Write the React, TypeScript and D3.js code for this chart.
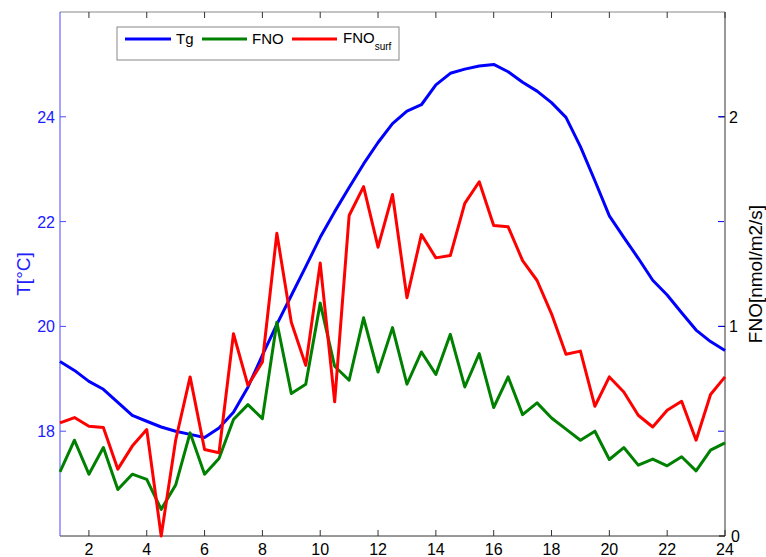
import React from "react";
import * as d3 from "d3";

const hours = [1,1.5,2,2.5,3,3.5,4,4.5,5,5.5,6,6.5,7,7.5,8,8.5,9,9.5,10,10.5,11,11.5,12,12.5,13,13.5,14,14.5,15,15.5,16,16.5,17,17.5,18,18.5,19,19.5,20,20.5,21,21.5,22,22.5,23,23.5,24];
const tg = [19.33,19.16,18.95,18.8,18.55,18.3,18.19,18.08,18.0,17.94,17.88,18.06,18.36,18.84,19.45,20.04,20.59,21.14,21.7,22.19,22.65,23.1,23.51,23.87,24.11,24.23,24.61,24.83,24.91,24.97,25.0,24.86,24.66,24.49,24.27,23.99,23.43,22.78,22.11,21.7,21.3,20.88,20.6,20.26,19.93,19.71,19.54];
const fno = [0.306,0.457,0.295,0.422,0.222,0.295,0.27,0.127,0.243,0.492,0.295,0.37,0.556,0.627,0.56,1.02,0.68,0.724,1.111,0.81,0.743,1.041,0.782,0.994,0.724,0.878,0.771,0.962,0.711,0.87,0.613,0.759,0.579,0.635,0.563,0.51,0.457,0.5,0.365,0.422,0.338,0.367,0.335,0.378,0.311,0.41,0.444];
const fnoSurf = [0.54,0.565,0.524,0.518,0.319,0.429,0.508,0.0,0.457,0.759,0.413,0.397,0.965,0.719,0.83,1.444,1.02,0.814,1.302,0.64,1.529,1.667,1.378,1.629,1.137,1.438,1.327,1.338,1.587,1.69,1.481,1.475,1.314,1.219,1.06,0.867,0.882,0.619,0.759,0.687,0.576,0.52,0.6,0.643,0.457,0.675,0.759];
const xTicks = [2,4,6,8,10,12,14,16,18,20,22,24];
const tTicks = [18,20,22,24];
const fTicks = [0,1,2];

const W = 766, H = 557;
const L = 60, R = 725, T = 12, B = 536;
const FONT = "Arial, 'Liberation Sans', Helvetica, sans-serif";

export default function App() {
  const x = d3.scaleLinear().domain([1, 24]).range([L, R]);
  const yT = d3.scaleLinear().domain([16, 26]).range([B, T]);
  const yF = d3.scaleLinear().domain([0, 2.5]).range([B, T]);
  const lineT = d3.line<number>().x((_, i) => x(hours[i])).y(d => yT(d));
  const lineF = d3.line<number>().x((_, i) => x(hours[i])).y(d => yF(d));
  const tick = 6;
  return (
    <div style={{ position: "fixed", left: 0, top: 0 }}>
      <svg width={W} height={H} style={{ display: "block", background: "#fff" }} fontFamily={FONT}>
        <rect x={0} y={0} width={W} height={H} fill="#fff" />
        {/* box lines */}
        <line x1={L} y1={T} x2={R} y2={T} stroke="#888" strokeWidth={1} />
        <line x1={L} y1={B} x2={R} y2={B} stroke="#333" strokeWidth={1} />
        <line x1={R} y1={T} x2={R} y2={B} stroke="#999" strokeWidth={2} />
        {/* x ticks */}
        {xTicks.map(v => (
          <g key={"x" + v}>
            <line x1={x(v)} x2={x(v)} y1={B} y2={B - tick} stroke="#333" />
            <line x1={x(v)} x2={x(v)} y1={T} y2={T + tick} stroke="#333" />
            <text x={x(v)} y={555} textAnchor="middle" fontSize={16} fill="#000">{v}</text>
          </g>
        ))}
        {/* right axis ticks (F) */}
        {fTicks.map(v => (
          <g key={"f" + v}>
            <line x1={R} x2={R - tick} y1={yF(v)} y2={yF(v)} stroke="#000" />
            <text x={v === 0 ? 731 : 729} y={yF(v) + 6} textAnchor="start" fontSize={16} fill="#000">{v}</text>
          </g>
        ))}
        {/* left-axis tick echoes on right side */}
        {tTicks.map(v => (
          <line key={"te" + v} x1={R - 1} x2={R - tick - 1} y1={yT(v)} y2={yT(v)} stroke="#0000ff" />
        ))}
        {/* left axis */}
        <line x1={L} y1={T} x2={L} y2={B} stroke="#4a4aff" strokeWidth={1} />
        {tTicks.map(v => (
          <g key={"t" + v}>
            <line x1={L} x2={L + tick} y1={yT(v)} y2={yT(v)} stroke="#4a4aff" />
            <text x={55} y={yT(v) + 6} textAnchor="end" fontSize={16} fill="#2020ff">{v}</text>
          </g>
        ))}
        <text transform={`translate(30,${(T + B) / 2}) rotate(-90)`} textAnchor="middle" fontSize={19} fill="#2020ff">T[°C]</text>
        <text transform={`translate(762,${(T + B) / 2}) rotate(-90)`} textAnchor="middle" fontSize={19} fill="#000">FNO[nmol/m2/s]</text>
        {/* data lines */}
        <path d={lineT(tg) || ""} fill="none" stroke="#0000ff" strokeWidth={3} strokeLinejoin="round" />
        <path d={lineF(fno) || ""} fill="none" stroke="#008000" strokeWidth={3} strokeLinejoin="round" />
        <path d={lineF(fnoSurf) || ""} fill="none" stroke="#ff0000" strokeWidth={3} strokeLinejoin="round" />
        {/* legend */}
        <rect x={117} y={27} width={282} height={33} fill="#fff" stroke="#888" strokeWidth={1} />
        <line x1={125} x2={171} y1={39} y2={39} stroke="#0000ff" strokeWidth={3} />
        <text x={176} y={44} fontSize={15} fill="#000">Tg</text>
        <line x1={202} x2={247} y1={39} y2={39} stroke="#008000" strokeWidth={3} />
        <text x={252} y={44} fontSize={15} fill="#000">FNO</text>
        <line x1={292} x2={337} y1={39} y2={39} stroke="#ff0000" strokeWidth={3} />
        <text x={343} y={43} fontSize={15} fill="#000">FNO<tspan fontSize={10} dy={7}>surf</tspan></text>
      </svg>
    </div>
  );
}
